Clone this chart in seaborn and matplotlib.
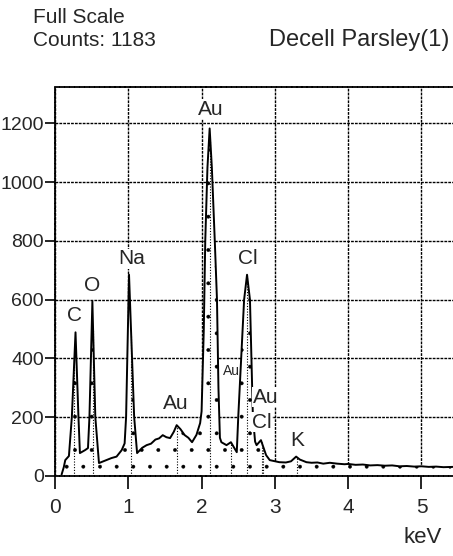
import numpy as np
import pandas as pd
import matplotlib
matplotlib.use("Agg")
import matplotlib.pyplot as plt
import seaborn as sns

# spectrum (keV, counts)
energy = [0.09, 0.12, 0.14, 0.19, 0.23, 0.28, 0.32, 0.34, 0.41, 0.45, 0.47, 0.51,
          0.55, 0.60, 0.70, 0.77, 0.84, 0.91, 0.95, 0.97, 1.01, 1.08, 1.12,
          1.19, 1.25, 1.31, 1.37, 1.42, 1.47, 1.52, 1.57, 1.62, 1.66, 1.71,
          1.77, 1.82, 1.87, 1.93, 1.98, 2.00, 2.03, 2.05, 2.08, 2.11, 2.14,
          2.18, 2.21, 2.23, 2.25, 2.27, 2.34, 2.40, 2.44, 2.48, 2.50, 2.54,
          2.58, 2.62, 2.66, 2.68, 2.70, 2.73, 2.75, 2.81, 2.84, 2.88, 2.93,
          3.06, 3.15, 3.22, 3.29, 3.34, 3.43, 3.50, 3.58, 3.66, 3.75, 3.85,
          3.95, 4.00, 4.10, 4.20, 4.30, 4.40, 4.50, 4.60, 4.70, 4.80, 4.90,
          5.00, 5.10, 5.20, 5.30, 5.43]
counts = [5, 30, 54, 68, 201, 489, 201, 78, 88, 95, 201, 594,
          201, 44, 54, 61, 66, 88, 111, 201, 685, 201, 78,
          96, 105, 110, 124, 128, 139, 132, 129, 150, 173, 160,
          139, 130, 115, 140, 180, 220, 500, 800, 1050, 1183, 1050,
          800, 600, 300, 130, 115, 105, 115, 98, 81, 200, 400,
          600, 685, 600, 400, 200, 117, 105, 122, 100, 71, 54,
          47, 46, 50, 66, 56, 47, 45, 46, 42, 45, 42,
          40, 41, 38, 39, 36, 37, 35, 36, 33, 34, 32,
          33, 31, 32, 30, 31]

# element markers
elements = ["C", "O", "Na", "Au", "Au", "Au", "Cl", "Au", "Cl", "K"]
marker_kev = [0.26, 0.52, 1.04, 1.66, 2.12, 2.40, 2.62, 2.84, 2.82, 3.30]
label_kev = [0.26, 0.51, 1.04, 1.65, 2.12, 2.41, 2.63, 2.87, 2.82, 3.31]
label_cts = [546, 648, 739, 247, 1248, 359, 739, 268, 183, 122]
label_size = [15, 15, 15, 15, 15, 10, 15, 15, 15, 15]

xticks = [0, 1, 2, 3, 4, 5]
yticks = [0, 200, 400, 600, 800, 1000, 1200]

df = pd.DataFrame({"keV": energy, "Counts": counts})

sns.set_style("white")
plt.rcParams["font.family"] = ["Liberation Sans", "DejaVu Sans"]
plt.rcParams["hatch.linewidth"] = 0.3
plt.rcParams["hatch.color"] = "black"

fig = plt.figure(figsize=(4.53, 5.56), dpi=100)
ax = fig.add_axes([0.1214, 0.1439, 0.8786, 0.6996])

dash = (0, (2.0, 0.8))
ax.set_xlim(0, 5.43)
ax.set_ylim(0, 1324)
ax.set_xticks(xticks)
ax.set_yticks(yticks)
ax.grid(True, color="black", linestyle=dash, linewidth=1.0, zorder=0)
ax.set_axisbelow(True)

# white fill with dots hides the grid under the spectrum
ax.fill_between(df["keV"], 0, df["Counts"], facecolor="white", edgecolor="black",
                hatch=".", linewidth=0, zorder=2)
sns.lineplot(data=df, x="keV", y="Counts", ax=ax, color="black", linewidth=1.4,
             zorder=4, estimator=None, sort=False)

# marker lines from baseline up to the spectrum
for k in marker_kev:
    top = np.interp(k, df["keV"], df["Counts"])
    ax.plot([k, k], [0, top], color="black", linestyle=(0, (1.0, 1.5)),
            linewidth=0.8, zorder=3)

for name, x, y, s in zip(elements, label_kev, label_cts, label_size):
    ax.text(x, y, name, ha="center", va="center", fontsize=s, zorder=5,
            bbox=dict(facecolor="white", edgecolor="none", pad=0.5) if s > 12 else None)

for side in ["left", "top", "bottom"]:
    ax.spines[side].set_linestyle(dash)
    ax.spines[side].set_color("black")
    ax.spines[side].set_linewidth(1.3)
ax.spines["right"].set_visible(False)

ax.tick_params(axis="x", direction="out", length=9, width=1.2, pad=7,
               labelsize=15, color="black", bottom=True)
ax.tick_params(axis="y", direction="out", length=7, width=1.2, pad=1,
               labelsize=14, color="black", left=True)
ax.set_xlabel("")
ax.set_ylabel("")

fig.text(0.073, 0.969, "Full Scale", ha="left", va="center", fontsize=15)
fig.text(0.073, 0.928, "Counts: 1183", ha="left", va="center", fontsize=15)
fig.text(0.993, 0.928, "Decell Parsley(1)", ha="right", va="center", fontsize=17)
fig.text(0.976, 0.034, "keV", ha="right", va="center", fontsize=16)

fig.savefig("out.png", dpi=100)
plt.close(fig)
